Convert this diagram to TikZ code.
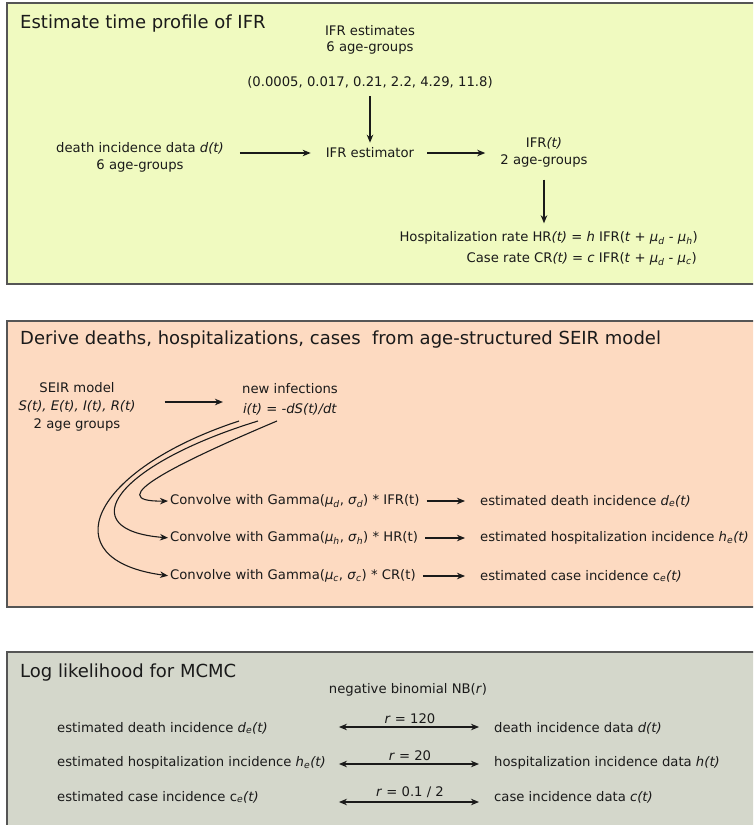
\documentclass[tikz,border=0pt]{standalone}
\usepackage{fontspec}
\setmainfont{DejaVu Sans}
\usetikzlibrary{arrows.meta,calc}
\definecolor{boxA}{HTML}{F0FAC0}
\definecolor{boxB}{HTML}{FDDAC1}
\definecolor{boxC}{HTML}{D4D7CB}
\definecolor{edgegray}{HTML}{555555}
\definecolor{ink}{HTML}{1A1A1A}
\newcommand{\bodyfont}{\fontsize{13.2pt}{17pt}\selectfont}
\newcommand{\ttlfont}{\fontsize{18pt}{22pt}\selectfont}
\newcommand{\ssb}[1]{\textsubscript{\itshape #1}}
\begin{document}
\begin{tikzpicture}[x=1pt,y=-1pt,
  panel/.style={draw=edgegray,line width=1.4pt},
  txt/.style={inner sep=0pt,text=ink,font=\bodyfont},
  ttl/.style={inner sep=0pt,text=ink,font=\ttlfont,anchor=west},
  arr/.style={draw=ink,line width=1.1pt,-{Stealth[length=8pt,width=6.5pt,inset=2.5pt]}},
  dbl/.style={draw=ink,line width=1.1pt,{Stealth[length=8pt,width=6.5pt,inset=2.5pt]}-{Stealth[length=8pt,width=6.5pt,inset=2.5pt]}}]
\clip (0,0) rectangle (753,825);
\fill[white] (0,0) rectangle (753,825);
% panels
\draw[panel,fill=boxA] (7,3) rectangle (780,284);
\draw[panel,fill=boxB] (7,321) rectangle (780,607);
\draw[panel,fill=boxC] (7,652) rectangle (780,850);

% ---- panel 1
\node[ttl] (t1) at (20,24) {Estimate time profile of IFR};
\node[txt,align=center,font=\fontsize{13.2pt}{16pt}\selectfont] (ifrest) at (370,40) {IFR estimates\\6 age-groups};
\node[txt] (vals) at (370,82) {(0.0005, 0.017, 0.21, 2.2, 4.29, 11.8)};
\node[txt,align=center] (dd) at (140,157.5) {death incidence data \textit{d(t)}\\6 age-groups};
\node[txt] (estim) at (370,153) {IFR estimator};
\node[txt,align=center] (ifrt) at (544,152.5) {IFR\textit{(t)}\\2 age-groups};
\node[txt,anchor=east] (hr) at (698,238) {Hospitalization rate HR\textit{(t)} = \textit{h} IFR(\textit{t} + \textit{μ}\ssb{d} - \textit{μ}\ssb{h})};
\node[txt,anchor=east] (cr) at (697,259) {Case rate CR\textit{(t)} = \textit{c} IFR(\textit{t} + \textit{μ}\ssb{d} - \textit{μ}\ssb{c})};

\draw[arr,shorten <=8pt,shorten >=5pt] (vals.south) -- (estim.north);
\draw[arr,shorten <=16pt,shorten >=15pt] (dd.east |- estim.west) -- (estim.west);
\draw[arr,shorten <=13pt,shorten >=15pt] (estim.east) -- (estim.east -| ifrt.west);
\draw[arr,shorten <=12pt,shorten >=8pt] (ifrt.south) -- (ifrt.south |- hr.north);

% ---- panel 2
\node[ttl] (t2) at (20,340) {Derive deaths, hospitalizations, cases\ \ from age-structured SEIR model};
\node[txt,align=center,font=\fontsize{13.2pt}{18pt}\selectfont] (seir) at (77,407) {SEIR model\\\textit{S(t), E(t), I(t), R(t)}\\2 age groups};
\node[txt,align=center,font=\fontsize{13.2pt}{20pt}\selectfont] (ni) at (290,399) {new infections\\\textit{i(t) = -dS(t)/dt}};
\draw[arr,shorten <=29pt,shorten >=19pt] ([yshift=5pt]seir.east) -- ([yshift=5pt]seir.east -| ni.west);

\node[txt,anchor=west] (conv1) at (170,501) {Convolve with Gamma(\textit{μ}\ssb{d}, \textit{σ}\ssb{d}) * IFR(t)};
\node[txt,anchor=west] (conv2) at (170,538) {Convolve with Gamma(\textit{μ}\ssb{h}, \textit{σ}\ssb{h}) * HR(t)};
\node[txt,anchor=west] (conv3) at (170,576) {Convolve with Gamma(\textit{μ}\ssb{c}, \textit{σ}\ssb{c}) * CR(t)};
\node[txt,anchor=west] (ed) at (480,501) {estimated death incidence \textit{d}\ssb{e}\textit{(t)}};
\node[txt,anchor=west] (eh) at (480,538) {estimated hospitalization incidence \textit{h}\ssb{e}\textit{(t)}};
\node[txt,anchor=west] (ec) at (480,576) {estimated case incidence c\ssb{e}\textit{(t)}};

\draw[arr,shorten <=7pt,shorten >=15pt] (conv1.east) -- (conv1.east -| ed.west);
\draw[arr,shorten <=7pt,shorten >=15pt] (conv2.east) -- (conv2.east -| eh.west);
\draw[arr,shorten <=7pt,shorten >=15pt] (conv3.east) -- (conv3.east -| ec.west);

\coordinate (s1) at (239,421);
\coordinate (s2) at (258,421);
\coordinate (s3) at (277,421);
\draw[arr,shorten >=2pt] (s3) .. controls (180,462) and (98,502) .. (conv1.west);
\draw[arr,shorten >=2pt] (s2) .. controls (115,465) and (70,530) .. (conv2.west);
\draw[arr,shorten >=2pt] (s1) .. controls (90,470) and (50,560) .. (conv3.west);

% ---- panel 3
\node[ttl] (t3) at (20,673) {Log likelihood for MCMC};
\node[txt] (nb) at (408,690) {negative binomial NB(\textit{r})};
\node[txt,anchor=west] (l1) at (57,728) {estimated death incidence \textit{d}\ssb{e}\textit{(t)}};
\node[txt,anchor=west] (l2) at (57,763) {estimated hospitalization incidence \textit{h}\ssb{e}\textit{(t)}};
\node[txt,anchor=west] (l3) at (57,797) {estimated case incidence c\ssb{e}\textit{(t)}};
\node[txt,anchor=west] (r1) at (494,728) {death incidence data \textit{d(t)}};
\node[txt,anchor=west] (r2) at (494,763) {hospitalization incidence data \textit{h(t)}};
\node[txt,anchor=west] (r3) at (494,797) {case incidence data \textit{c(t)}};

\draw[dbl,shorten <=13pt,shorten >=15pt] ([yshift=1pt]l1.west -| l2.east) -- ([yshift=1pt]r1.west)
  node[txt,midway,above=3pt] (k1) {\textit{r} = 120};
\draw[dbl,shorten <=13pt,shorten >=15pt] ([yshift=-1pt]l2.east) -- ([yshift=-1pt]r2.west)
  node[txt,midway,above=3pt] (k2) {\textit{r} = 20};
\draw[dbl,shorten <=13pt,shorten >=15pt] ([yshift=-5pt]l3.west -| l2.east) -- ([yshift=-5pt]r3.west)
  node[txt,midway,above=4pt] (k3) {\textit{r} = 0.1 / 2};
\end{tikzpicture}
\end{document}
